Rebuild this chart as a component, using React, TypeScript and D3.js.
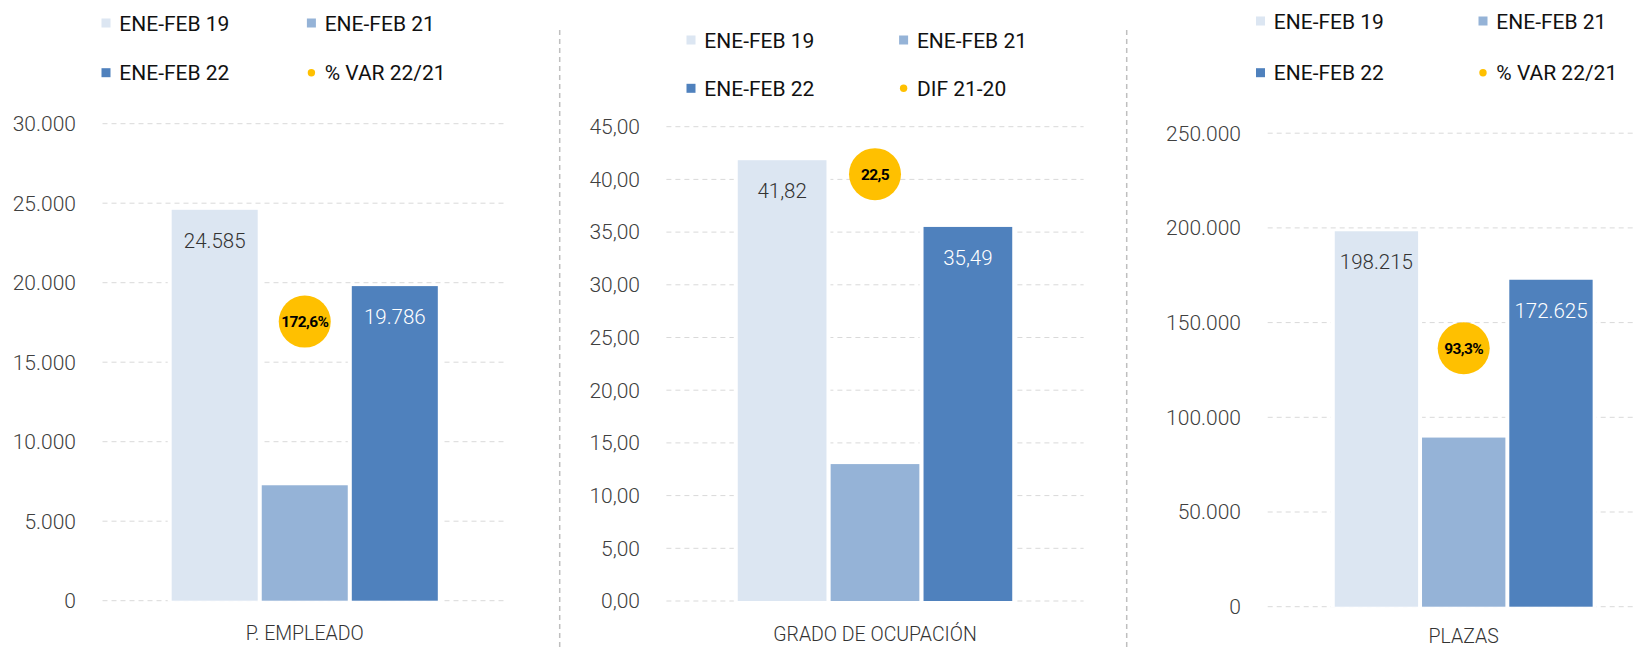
import React from "react";
import * as d3 from "d3";

// series / categories
const seriesNames = ["ENE-FEB 19", "ENE-FEB 21", "ENE-FEB 22"];
const categories = ["P. EMPLEADO", "GRADO DE OCUPACIÓN", "PLAZAS"];

// bar values, one array per panel
const empleadoValues = [24585, 7260, 19786];
const ocupacionValues = [41.82, 12.99, 35.49];
const plazasValues = [198215, 89300, 172625];

// yellow bubble values + legend names
const bubbleValues = [1.726, 22.5, 0.933];
const bubbleNames = ["% VAR 22/21", "DIF 21-20", "% VAR 22/21"];

// axis ticks
const empleadoTicks = [0, 5000, 10000, 15000, 20000, 25000, 30000];
const ocupacionTicks = [0, 5, 10, 15, 20, 25, 30, 35, 40, 45];
const plazasTicks = [0, 50000, 100000, 150000, 200000, 250000];

const colors = ["#dce6f2", "#95b3d7", "#4f81bd"];
const bubbleColor = "#ffc000";
const FONT = "Roboto, 'Noto Sans', sans-serif";

const es = d3.formatLocale({ decimal: ",", thousands: ".", grouping: [3], currency: ["", "€"] });

const panels = [
  {
    cat: categories[0], values: empleadoValues, ticks: empleadoTicks,
    bubble: bubbleValues[0], bubbleName: bubbleNames[0],
    fmtTick: es.format(",.0f"), fmtVal: es.format(",.0f"), fmtBubble: es.format(".1%"),
    y0: 600.7, y1: 123.7, x0: 102.5, x1: 507, secMax: 2.95,
    lx: [106, 311.4], ly: [23, 72.7], labelRight: 76, catDy: 39.5,
  },
  {
    cat: categories[1], values: ocupacionValues, ticks: ocupacionTicks,
    bubble: bubbleValues[1], bubbleName: bubbleNames[1],
    fmtTick: es.format(".2f"), fmtVal: es.format(".2f"), fmtBubble: es.format(".1f"),
    y0: 601, y1: 126.7, x0: 666.4, x1: 1083.6, secMax: 25,
    lx: [691, 903.6], ly: [40, 88.3], labelRight: 640, catDy: 39.5,
  },
  {
    cat: categories[2], values: plazasValues, ticks: plazasTicks,
    bubble: bubbleValues[2], bubbleName: bubbleNames[2],
    fmtTick: es.format(",.0f"), fmtVal: es.format(",.0f"), fmtBubble: es.format(".1%"),
    y0: 606.7, y1: 133.2, x0: 1267.7, x1: 1659.7, secMax: 1.71,
    lx: [1260.5, 1483], ly: [21, 72.7], labelRight: 1241, catDy: 36.5,
  },
];

function Panel({ p }: { p: any }) {
  const tickMax = p.ticks[p.ticks.length - 1];
  const y = d3.scaleLinear().domain([0, tickMax]).range([p.y0, p.y1]);
  const ySec = d3.scaleLinear().domain([0, p.secMax]).range([p.y0, p.y1]);
  const xCat = d3.scaleBand().domain([p.cat]).range([p.x0, p.x1]).paddingInner(0).paddingOuter(0.26);
  const xSer = d3.scaleBand().domain(seriesNames).range([xCat(p.cat)!, xCat(p.cat)! + xCat.bandwidth()]).paddingInner(0.045);
  const cx = xCat(p.cat)! + xCat.bandwidth() / 2;

  const legendItems = [
    { name: seriesNames[0], color: colors[0], col: 0, row: 0, dot: false },
    { name: seriesNames[1], color: colors[1], col: 1, row: 0, dot: false },
    { name: seriesNames[2], color: colors[2], col: 0, row: 1, dot: false },
    { name: p.bubbleName, color: bubbleColor, col: 1, row: 1, dot: true },
  ];

  return (
    <g>
      {p.ticks.map((t: number) => (
        <g key={t}>
          <line x1={p.x0} x2={Math.min(p.x1, 1636)} y1={y(t)} y2={y(t)} stroke="#d9d9d9" strokeWidth={1} strokeDasharray="5 4" />
          <text x={p.labelRight} y={y(t)} dy="0.35em" textAnchor="end" fontFamily={FONT} fontWeight={300} fontSize={21} fill="#404040">
            {p.fmtTick(t)}
          </text>
        </g>
      ))}
      {p.values.map((v: number, i: number) => (
        <rect key={"h" + i} x={xSer(seriesNames[i])! - 4} width={xSer.bandwidth() + 8} y={y(v)} height={p.y0 - y(v) + 1} fill="#fff" />
      ))}
      {p.values.map((v: number, i: number) => (
        <rect key={"b" + i} x={xSer(seriesNames[i])} width={xSer.bandwidth()} y={y(v)} height={p.y0 - y(v)} fill={colors[i]} />
      ))}
      {p.values.map((v: number, i: number) =>
        i === 1 ? null : (
          <text key={"l" + i} x={xSer(seriesNames[i])! + xSer.bandwidth() / 2} y={y(v) + 38} textAnchor="middle" fontFamily={FONT} fontWeight={300} fontSize={20.5} fill={i === 2 ? "#fff" : "#333"}>
            {p.fmtVal(v)}
          </text>
        )
      )}
      <circle cx={cx} cy={ySec(p.bubble)} r={26} fill={bubbleColor} />
      <text x={cx} y={ySec(p.bubble)} dy="0.36em" textAnchor="middle" fontFamily={FONT} fontWeight={700} fontSize={15.5} letterSpacing={-0.6} fill="#000">
        {p.fmtBubble(p.bubble)}
      </text>
      <text x={cx} y={p.y0 + p.catDy} textAnchor="middle" fontFamily={FONT} fontWeight={300} fontSize={19.5} fill="#333">
        {p.cat}
      </text>
      {legendItems.map((it) => {
        const lx = p.lx[it.col];
        const ly = p.ly[it.row];
        return (
          <g key={it.name + it.col + it.row}>
            {it.dot ? (
              <circle cx={lx} cy={ly} r={3.7} fill={it.color} />
            ) : (
              <rect x={lx - 4.5} y={ly - 4.5} width={9} height={9} fill={it.color} />
            )}
            <text x={lx + 13.3} y={ly} dy="0.36em" fontFamily={FONT} fontSize={21} fill="#111">
              {it.name}
            </text>
          </g>
        );
      })}
    </g>
  );
}

export default function App() {
  const separators = [559.7, 1126.7];
  return (
    <svg width={1636} height={647} style={{ position: "absolute", left: 0, top: 0, background: "#fff" }}>
      {separators.map((sx) => (
        <line key={sx} x1={sx} x2={sx} y1={30} y2={647} stroke="#bfbfbf" strokeWidth={1.5} strokeDasharray="5 4" />
      ))}
      {panels.map((p) => (
        <Panel key={p.cat} p={p} />
      ))}
    </svg>
  );
}
